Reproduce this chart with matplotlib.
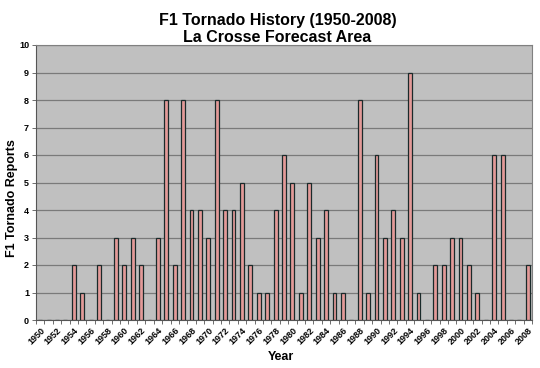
import matplotlib
matplotlib.use("Agg")
import matplotlib.pyplot as plt
import numpy as np

years = list(range(1950, 2009))
reports = [0, 0, 0, 0, 2, 1, 0, 2, 0, 3,
           2, 3, 2, 0, 3, 8, 2, 8, 4, 4,
           3, 8, 4, 4, 5, 2, 1, 1, 4, 6,
           5, 1, 5, 3, 4, 1, 1, 0, 8, 1,
           6, 3, 4, 3, 9, 1, 0, 2, 2, 3,
           3, 2, 1, 0, 6, 6, 0, 0, 2]
tick_years = [str(y) for y in range(1950, 2009, 2)]

plt.rcParams['font.family'] = ['Liberation Sans', 'DejaVu Sans']
fig = plt.figure(figsize=(5.4, 3.68), dpi=100)
ax = fig.add_axes([36/540, 48/368, 496/540, 275/368])
ax.set_facecolor('#C0C0C0')

x = np.arange(len(years))
ax.bar(x, reports, width=0.46, color='#E39A98', edgecolor='#1a2a2a', linewidth=0.9, zorder=3)

ax.set_xlim(-0.5, len(years) - 0.5)
ax.set_ylim(0, 10)
ax.set_yticks(range(0, 11))
ax.set_yticklabels([str(v) for v in range(0, 11)], fontsize=6.5, fontweight='bold')
ax.yaxis.grid(True, color='#7a7a7a', linewidth=0.9, zorder=1)
ax.set_axisbelow(True)

major = [years.index(int(t)) for t in tick_years]
ax.set_xticks(major)
ax.set_xticklabels(tick_years, rotation=45, ha='right', rotation_mode='anchor',
                   fontsize=6.5, fontweight='bold')
ax.tick_params(axis='x', which='major', length=0, pad=4)
ax.set_xticks(np.arange(-0.5, len(years), 1), minor=True)
ax.tick_params(axis='x', which='minor', length=3, color='#555555', width=0.6)
ax.tick_params(axis='y', length=3, color='#555555', width=0.6, pad=2)

for s in ['top', 'right']:
    ax.spines[s].set_color('#808080')
    ax.spines[s].set_linewidth(0.8)
for s in ['left', 'bottom']:
    ax.spines[s].set_color('#555555')
    ax.spines[s].set_linewidth(0.8)

fig.text(278/540, 1 - 20/368, 'F1 Tornado History (1950-2008)', ha='center', va='center',
         fontsize=11.5, fontweight='bold')
fig.text(277/540, 1 - 37.5/368, 'La Crosse Forecast Area', ha='center', va='center',
         fontsize=11.5, fontweight='bold')
fig.text(12/540, 1 - 198/368, 'F1 Tornado Reports', rotation=90, ha='center', va='center',
         fontsize=9, fontweight='bold')
fig.text(281/540, 1 - 357/368, 'Year', ha='center', va='center', fontsize=9, fontweight='bold')

fig.savefig('out.png', dpi=100)
